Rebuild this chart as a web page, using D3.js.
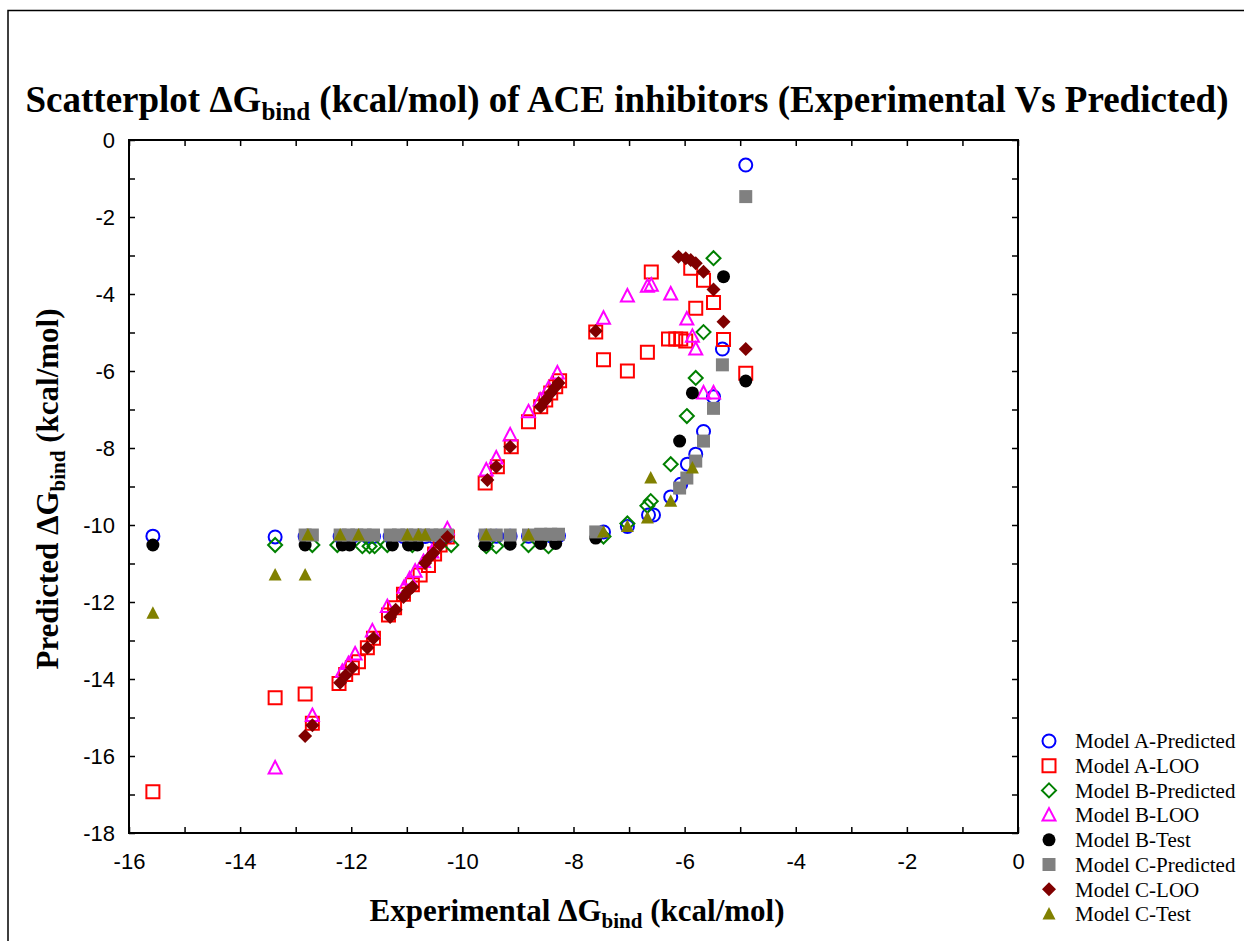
<!DOCTYPE html>
<html>
<head>
<meta charset="utf-8">
<script src="https://cdn.jsdelivr.net/npm/d3@7"></script>
<style>
  body { margin: 0; background: #fff; }
  svg { display: block; }
</style>
</head>
<body>
<script>
// Experimental vs predicted binding energies, one pair of arrays per series
const aPredX = [-15.57, -13.37, -12.83, -12.2, -11.98, -11.71, -11.6, -11.3, -11.06, -10.9, -10.67, -10.52, -10.27, -9.59, -9.39, -9.14, -8.81, -8.59, -8.41, -8.27, -7.46, -7.03, -6.65, -6.56, -6.25, -6.07, -5.95, -5.8, -5.66, -5.48, -5.32, -4.9]
const aPredY = [-10.29, -10.31, -10.3, -10.3, -10.3, -10.3, -10.3, -10.3, -10.3, -10.3, -10.3, -10.3, -10.3, -10.29, -10.29, -10.29, -10.29, -10.28, -10.28, -10.28, -10.18, -10.04, -9.74, -9.74, -9.27, -8.94, -8.42, -8.16, -7.57, -6.67, -5.43, -0.65]

const aLooX = [-15.57, -13.37, -12.83, -12.7, -12.22, -12.1, -11.98, -11.87, -11.71, -11.6, -11.33, -11.22, -11.06, -10.9, -10.76, -10.61, -10.5, -10.4, -10.27, -9.59, -9.37, -9.12, -8.81, -8.59, -8.5, -8.41, -8.32, -8.25, -7.6, -7.46, -7.03, -6.67, -6.6, -6.29, -6.16, -6.07, -5.98, -5.89, -5.8, -5.66, -5.48, -5.3, -4.9]
const aLooY = [-16.93, -14.49, -14.39, -15.15, -14.12, -13.88, -13.71, -13.55, -13.19, -12.94, -12.34, -12.15, -11.8, -11.55, -11.3, -11.05, -10.75, -10.52, -10.31, -8.91, -8.49, -7.97, -7.32, -6.93, -6.75, -6.57, -6.41, -6.25, -4.99, -5.71, -6.0, -5.51, -3.43, -5.17, -5.17, -5.17, -5.22, -3.33, -4.37, -3.64, -4.22, -5.18, -6.06]

const bPredX = [-13.37, -12.7, -12.25, -11.8, -11.67, -11.58, -11.35, -10.9, -10.2, -9.57, -9.39, -8.81, -8.45, -7.46, -7.03, -6.67, -6.61, -6.25, -5.96, -5.8, -5.66, -5.48]
const bPredY = [-10.52, -10.52, -10.52, -10.55, -10.55, -10.55, -10.52, -10.52, -10.52, -10.55, -10.55, -10.52, -10.55, -10.3, -9.96, -9.5, -9.38, -8.42, -7.17, -6.18, -4.99, -3.07]

const bLooX = [-13.37, -12.7, -12.16, -12.05, -11.93, -11.62, -11.35, -11.05, -10.95, -10.85, -10.7, -10.55, -10.27, -9.57, -9.39, -9.14, -8.81, -8.6, -8.45, -8.29, -7.46, -7.03, -6.67, -6.6, -6.25, -5.96, -5.86, -5.8, -5.66, -5.48]
const bLooY = [-16.31, -14.95, -13.8, -13.6, -13.35, -12.75, -12.12, -11.62, -11.4, -11.2, -10.95, -10.7, -10.1, -8.57, -8.26, -7.66, -7.06, -6.75, -6.45, -6.05, -4.63, -4.05, -3.8, -3.77, -4.0, -4.65, -5.1, -5.43, -6.57, -6.57]

const bTestX = [-15.57, -12.83, -12.16, -12.03, -11.26, -10.97, -10.81, -9.59, -9.14, -8.59, -8.32, -7.6, -6.09, -5.86, -5.3, -4.9]
const bTestY = [-10.52, -10.52, -10.52, -10.52, -10.52, -10.52, -10.52, -10.52, -10.5, -10.48, -10.48, -10.34, -7.82, -6.57, -3.55, -6.26]

const cPredX = [-12.83, -12.7, -12.2, -12.05, -11.9, -11.75, -11.6, -11.3, -11.15, -11.0, -10.85, -10.7, -10.55, -10.4, -10.27, -9.59, -9.39, -9.14, -8.81, -8.59, -8.41, -8.27, -7.6, -6.09, -5.96, -5.8, -5.66, -5.48, -5.32, -4.9]
const cPredY = [-10.26, -10.26, -10.26, -10.26, -10.26, -10.26, -10.26, -10.26, -10.26, -10.26, -10.26, -10.26, -10.26, -10.26, -10.26, -10.26, -10.26, -10.26, -10.26, -10.24, -10.24, -10.24, -10.18, -9.04, -8.78, -8.34, -7.82, -6.97, -5.84, -1.47]

const cLooX = [-12.7, -12.83, -12.2, -12.1, -11.98, -11.71, -11.6, -11.3, -11.2, -11.06, -10.98, -10.9, -10.67, -10.6, -10.52, -10.4, -10.27, -9.55, -9.39, -9.14, -8.59, -8.5, -8.41, -8.32, -8.27, -7.6, -6.11, -5.98, -5.89, -5.8, -5.66, -5.48, -5.3, -4.9]
const cLooY = [-15.2, -15.48, -14.1, -13.9, -13.71, -13.19, -12.94, -12.39, -12.2, -11.87, -11.72, -11.61, -10.99, -10.85, -10.73, -10.52, -10.31, -8.83, -8.49, -7.97, -6.93, -6.75, -6.57, -6.41, -6.31, -4.96, -3.03, -3.07, -3.12, -3.2, -3.42, -3.88, -4.72, -5.43]

const cTestX = [-15.57, -13.37, -12.83, -12.78, -12.2, -11.87, -10.99, -10.79, -10.67, -9.57, -8.81, -7.46, -7.03, -6.67, -6.61, -6.25, -5.86]
const cTestY = [-12.29, -11.3, -11.3, -10.26, -10.26, -10.26, -10.26, -10.26, -10.26, -10.26, -10.26, -10.18, -10.04, -9.82, -8.78, -9.38, -8.52]

const seriesNames = ["Model A-Predicted", "Model A-LOO", "Model B-Predicted", "Model B-LOO", "Model B-Test", "Model C-Predicted", "Model C-LOO", "Model C-Test"]
const xTicks = d3.range(-16, 1)
const yTicks = d3.range(-18, 1)

const series = [
  {name: seriesNames[0], xs: aPredX, ys: aPredY, shape: "circle", color: "#0000ff", filled: false},
  {name: seriesNames[1], xs: aLooX, ys: aLooY, shape: "square", color: "#ff0000", filled: false},
  {name: seriesNames[2], xs: bPredX, ys: bPredY, shape: "diamond", color: "#008000", filled: false},
  {name: seriesNames[3], xs: bLooX, ys: bLooY, shape: "triangle", color: "#ff00ff", filled: false},
  {name: seriesNames[4], xs: bTestX, ys: bTestY, shape: "circle", color: "#000000", filled: true},
  {name: seriesNames[5], xs: cPredX, ys: cPredY, shape: "square", color: "#808080", filled: true},
  {name: seriesNames[6], xs: cLooX, ys: cLooY, shape: "diamond", color: "#800000", filled: true},
  {name: seriesNames[7], xs: cTestX, ys: cTestY, shape: "triangle", color: "#808000", filled: true}
]

const W = 1244, H = 941
const mLeft = 129, mRight = 1018, mTop = 140, mBottom = 833

const svg = d3.select("body")
    .append("svg")
    .attr("width", W)
    .attr("height", H)

// outer border (top and left only are visible)
svg.append("path")
    .attr("d", `M8,${H} L8,10.5 L${W},10.5`)
    .attr("fill", "none")
    .attr("stroke", "#000")
    .attr("stroke-width", 1.5)

const x = d3.scaleLinear().domain([-16, 0]).range([mLeft, mRight])
const y = d3.scaleLinear().domain([0, -18]).range([mTop, mBottom])

const lab = d => (d % 2 === 0 ? String(d) : "")

svg.append("g")
    .attr("transform", `translate(0,${mBottom})`)
    .call(d3.axisBottom(x).tickValues(xTicks).tickFormat(lab).tickSize(-6).tickPadding(20))
svg.append("g")
    .attr("transform", `translate(0,${mTop})`)
    .call(d3.axisTop(x).tickValues(xTicks).tickFormat("").tickSize(-6))
svg.append("g")
    .attr("transform", `translate(${mLeft},0)`)
    .call(d3.axisLeft(y).tickValues(yTicks).tickFormat(lab).tickSize(-6).tickPadding(14))
svg.append("g")
    .attr("transform", `translate(${mRight},0)`)
    .call(d3.axisRight(y).tickValues(yTicks).tickFormat("").tickSize(-6))

svg.selectAll(".domain").remove()
svg.selectAll(".tick line").attr("stroke", "#000").attr("stroke-width", 1.5)
svg.selectAll(".tick text")
    .attr("font-family", "'Liberation Sans', Arial, sans-serif")
    .attr("font-size", 22)
    .attr("fill", "#000")

svg.append("rect")
    .attr("x", mLeft)
    .attr("y", mTop)
    .attr("width", mRight - mLeft)
    .attr("height", mBottom - mTop)
    .attr("fill", "none")
    .attr("stroke", "#000")
    .attr("stroke-width", 2)

// marker shapes
function shapePath(shape) {
  if (shape === "circle") return "M-6.5,0A6.5,6.5 0 1,0 6.5,0A6.5,6.5 0 1,0 -6.5,0Z"
  if (shape === "square") return "M-6.5,-6.5H6.5V6.5H-6.5Z"
  if (shape === "diamond") return "M0,-7L7,0L0,7L-7,0Z"
  return "M0,-7L6.5,5.5L-6.5,5.5Z"
}

const plot = svg.append("g")
series.forEach(s => {
  plot.append("g")
    .selectAll("path")
    .data(s.xs.map((v, i) => [v, s.ys[i]]))
    .enter()
    .append("path")
    .attr("transform", d => `translate(${x(d[0])},${y(d[1])})`)
    .attr("d", shapePath(s.shape))
    .attr("fill", s.filled ? s.color : "none")
    .attr("stroke", s.filled ? "none" : s.color)
    .attr("stroke-width", 2)
})

// title
const title = svg.append("text")
    .attr("x", 627)
    .attr("y", 112)
    .attr("text-anchor", "middle")
    .attr("font-family", "'Liberation Serif', 'Times New Roman', serif")
    .attr("font-weight", "bold")
    .attr("font-size", 37)
title.append("tspan").text("Scatterplot \u0394G")
title.append("tspan").attr("font-size", 25).attr("dy", 8).text("bind")
title.append("tspan").attr("dy", -8).text(" (kcal/mol) of ACE inhibitors (Experimental Vs Predicted)")

// axis titles
const xt = svg.append("text")
    .attr("x", 577)
    .attr("y", 921)
    .attr("text-anchor", "middle")
    .attr("font-family", "'Liberation Serif', 'Times New Roman', serif")
    .attr("font-weight", "bold")
    .attr("font-size", 31)
xt.append("tspan").text("Experimental \u0394G")
xt.append("tspan").attr("font-size", 21).attr("dy", 7).text("bind")
xt.append("tspan").attr("dy", -7).text(" (kcal/mol)")

const yt = svg.append("text")
    .attr("transform", "translate(58,489) rotate(-90)")
    .attr("text-anchor", "middle")
    .attr("font-family", "'Liberation Serif', 'Times New Roman', serif")
    .attr("font-weight", "bold")
    .attr("font-size", 31)
yt.append("tspan").text("Predicted \u0394G")
yt.append("tspan").attr("font-size", 21).attr("dy", 7).text("bind")
yt.append("tspan").attr("dy", -7).text(" (kcal/mol)")

// legend
const legend = svg.append("g")
    .selectAll("g")
    .data(series)
    .enter()
    .append("g")
    .attr("transform", (d, i) => `translate(1049,${741 + i * 24.7})`)

legend.append("path")
    .attr("d", d => shapePath(d.shape))
    .attr("fill", d => d.filled ? d.color : "none")
    .attr("stroke", d => d.filled ? "none" : d.color)
    .attr("stroke-width", 2)

legend.append("text")
    .attr("x", 26)
    .attr("dy", "0.35em")
    .attr("font-family", "'Liberation Serif', 'Times New Roman', serif")
    .attr("font-size", 21)
    .text(d => d.name)
</script>
</body>
</html>
